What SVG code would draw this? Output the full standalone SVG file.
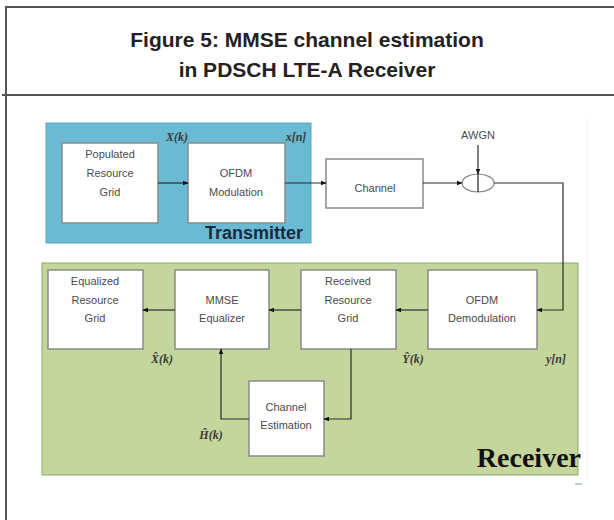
<svg xmlns="http://www.w3.org/2000/svg" width="614" height="520" viewBox="0 0 614 520">
  <style>
    .frame { fill: none; stroke: #555; stroke-width: 2; }
    .title { font-family: "Liberation Sans", Arial, sans-serif; font-weight: bold; font-size: 21px; fill: #222; text-anchor: middle; }
    .box { fill: #fff; stroke: #8a8a8a; stroke-width: 1.5; }
    .lbl { font-family: "Liberation Sans", Arial, sans-serif; font-size: 11px; fill: #4a4a4a; text-anchor: middle; }
    .math { font-family: "Liberation Serif", "Times New Roman", serif; font-style: italic; font-weight: bold; font-size: 12px; fill: #3a3a3a; text-anchor: middle; }
    .wire { fill: none; stroke: #2a2a2a; stroke-width: 1.2; }
  </style>
  <defs>
    <marker id="arr" viewBox="0 0 10 10" refX="9" refY="5" markerWidth="6" markerHeight="6" orient="auto" markerUnits="userSpaceOnUse">
      <path d="M0,1 L10,5 L0,9 Z" fill="#111"/>
    </marker>
  </defs>

  <rect width="614" height="520" fill="#fff"/>

  <!-- page frame and title -->
  <g id="frame">
    <path class="frame" d="M6,520 V7 H614"/>
    <path class="frame" d="M2,95 H614"/>
    <text class="title" x="307" y="47">Figure 5: MMSE channel estimation</text>
    <text class="title" x="307" y="77">in PDSCH LTE-A Receiver</text>
  </g>

  <!-- faint image border -->
  <path d="M587,118 V478" stroke="#f0f0f0" stroke-width="1" fill="none"/>

  <!-- transmitter region -->
  <g id="transmitter">
    <rect x="46" y="123" width="265" height="120" fill="#69bad2" stroke="#5aa7bf" stroke-width="1"/>
    <text x="303" y="239" font-family="'Liberation Sans', Arial, sans-serif" font-weight="bold" font-size="18" fill="#1b2a40" text-anchor="end">Transmitter</text>
  </g>

  <!-- receiver region -->
  <g id="receiver">
    <rect x="42" y="263" width="536" height="212" fill="#c4d69b" stroke="#8fa36a" stroke-width="1"/>
    <text x="581" y="467" font-family="'Liberation Serif', 'Times New Roman', serif" font-weight="bold" font-size="28" fill="#111" text-anchor="end">Receiver</text>
  </g>

  <g id="populated-grid">
    <rect class="box" x="62" y="143" width="96" height="80"/>
    <text class="lbl" x="110" y="158">Populated</text>
    <text class="lbl" x="110" y="177">Resource</text>
    <text class="lbl" x="110" y="196">Grid</text>
  </g>

  <g id="ofdm-mod">
    <rect class="box" x="188" y="143" width="97" height="80"/>
    <text class="lbl" x="236" y="177">OFDM</text>
    <text class="lbl" x="236" y="196">Modulation</text>
  </g>

  <g id="channel">
    <rect class="box" x="326" y="159" width="97" height="49"/>
    <text class="lbl" x="375" y="192">Channel</text>
  </g>

  <g id="adder">
    <ellipse cx="478" cy="183" rx="16" ry="9" fill="#fff" stroke="#888" stroke-width="1.2"/>
    <path d="M478,174 V192" stroke="#222" stroke-width="1.2"/>
    <text class="lbl" x="478" y="139">AWGN</text>
  </g>

  <g id="equalized-grid">
    <rect class="box" x="48" y="270" width="95" height="79"/>
    <text class="lbl" x="95" y="285">Equalized</text>
    <text class="lbl" x="95" y="304">Resource</text>
    <text class="lbl" x="95" y="322">Grid</text>
  </g>

  <g id="mmse-eq">
    <rect class="box" x="175" y="270" width="94" height="79"/>
    <text class="lbl" x="222" y="304">MMSE</text>
    <text class="lbl" x="222" y="322">Equalizer</text>
  </g>

  <g id="received-grid">
    <rect class="box" x="301" y="270" width="95" height="79"/>
    <text class="lbl" x="348" y="285">Received</text>
    <text class="lbl" x="348" y="304">Resource</text>
    <text class="lbl" x="348" y="322">Grid</text>
  </g>

  <g id="ofdm-demod">
    <rect class="box" x="428" y="270" width="109" height="79"/>
    <text class="lbl" x="482" y="304">OFDM</text>
    <text class="lbl" x="482" y="322">Demodulation</text>
  </g>

  <g id="channel-est">
    <rect class="box" x="249" y="381" width="75" height="75"/>
    <text class="lbl" x="286" y="411">Channel</text>
    <text class="lbl" x="286" y="429">Estimation</text>
  </g>

  <!-- signal labels -->
  <g id="signals">
    <text class="math" x="177" y="141">X(k)</text>
    <text class="math" x="296" y="141">x[n]</text>
    <text class="math" x="162" y="363">X̂(k)</text>
    <text class="math" x="413" y="363">Ŷ(k)</text>
    <text class="math" x="556" y="363">y[n]</text>
    <text class="math" x="211" y="439">Ĥ(k)</text>
  </g>

  <g id="connectors">
    <path class="wire" d="M158,183 H188" marker-end="url(#arr)"/>
    <path class="wire" d="M285,183 H326" marker-end="url(#arr)"/>
    <path class="wire" d="M423,183 H462" marker-end="url(#arr)"/>
    <path class="wire" d="M478,145 V174" marker-end="url(#arr)"/>
    <path class="wire" d="M494,183 H563 V310 H537" marker-end="url(#arr)"/>
    <path class="wire" d="M428,310 H396" marker-end="url(#arr)"/>
    <path class="wire" d="M301,310 H269" marker-end="url(#arr)"/>
    <path class="wire" d="M175,310 H143" marker-end="url(#arr)"/>
    <path class="wire" d="M351,349 V419 H324" marker-end="url(#arr)"/>
    <path class="wire" d="M249,419 H221 V349" marker-end="url(#arr)"/>
  </g>

  <path d="M575,484 H582" stroke="#a9bfd6" stroke-width="1.5"/>
</svg>
